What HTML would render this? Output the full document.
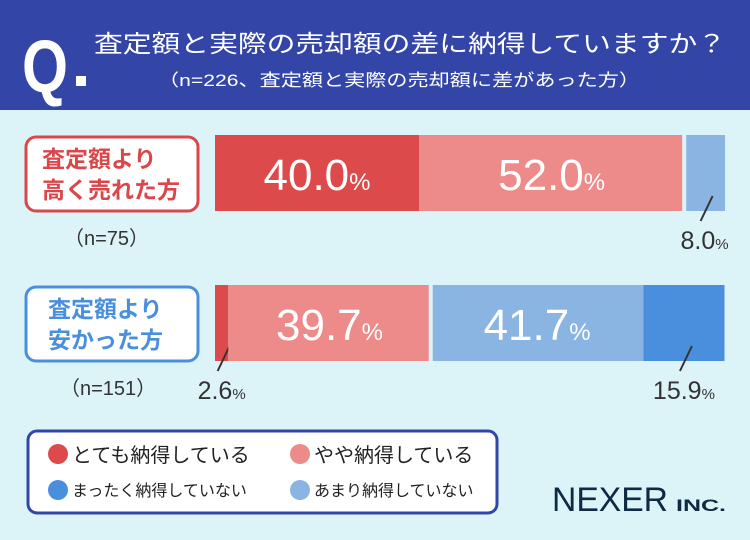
<!DOCTYPE html>
<html><head><meta charset="utf-8">
<style>
body{margin:0;width:750px;height:540px;overflow:hidden;background:#dcf4f8;font-family:"Liberation Sans","Noto Sans CJK JP",sans-serif;}
svg{display:block}
</style></head>
<body>
<svg width="750" height="540" viewBox="0 0 750 540">
<rect x="0" y="0" width="750" height="540" fill="#dcf4f8"/>
<rect x="0" y="0" width="750" height="110" fill="#3346a8"/>
<text x="22" y="92" fill="#fff" font-size="74" font-weight="bold" font-family="Liberation Sans, sans-serif" textLength="46" lengthAdjust="spacingAndGlyphs">Q</text>
<rect x="76" y="76" width="10" height="10" fill="#fff"/>
<text x="94" y="52" fill="#fff" font-size="24" textLength="632" lengthAdjust="spacingAndGlyphs" font-family="Liberation Sans, Noto Sans CJK JP, sans-serif">査定額と実際の売却額の差に納得していますか？</text>
<text x="158" y="86" fill="#fff" font-size="17" textLength="482" lengthAdjust="spacingAndGlyphs" font-family="Liberation Sans, Noto Sans CJK JP, sans-serif">（n=226、査定額と実際の売却額に差があった方）</text>

<g>
<rect x="26" y="137" width="172" height="74" rx="10" fill="#fff" stroke="#d9474b" stroke-width="3"/>
<text x="42" y="167" fill="#d9474b" font-size="23" font-weight="bold" font-family="Liberation Sans, Noto Sans CJK JP, sans-serif">査定額より</text>
<text x="42" y="198" fill="#d9474b" font-size="23" font-weight="bold" font-family="Liberation Sans, Noto Sans CJK JP, sans-serif">高く売れた方</text>
</g>
<text x="64" y="245" fill="#333" font-size="20" font-family="Liberation Sans, Noto Sans CJK JP, sans-serif">（n=75）</text>
<g>
<rect x="26" y="287" width="172" height="74" rx="10" fill="#fff" stroke="#4a8fdd" stroke-width="3"/>
<text x="48" y="317" fill="#4a8fdd" font-size="23" font-weight="bold" font-family="Liberation Sans, Noto Sans CJK JP, sans-serif">査定額より</text>
<text x="48" y="348" fill="#4a8fdd" font-size="23" font-weight="bold" font-family="Liberation Sans, Noto Sans CJK JP, sans-serif">安かった方</text>
</g>
<text x="60" y="395" fill="#333" font-size="20" font-family="Liberation Sans, Noto Sans CJK JP, sans-serif">（n=151）</text>

<g id="bars"></g>

<g>
<rect x="28" y="431" width="469" height="82" rx="9" fill="#fff" stroke="#3346a8" stroke-width="3"/>
<g><circle cx="58" cy="454" r="10" fill="#dd4a4b"/><text x="72" y="462" font-size="20" fill="#222" font-family="Liberation Sans, Noto Sans CJK JP, sans-serif">とても納得している</text></g>
<g><circle cx="300" cy="454" r="10" fill="#ed8a8a"/><text x="314" y="462" font-size="20" fill="#222" font-family="Liberation Sans, Noto Sans CJK JP, sans-serif">やや納得している</text></g>
<g><circle cx="58" cy="490" r="10" fill="#4a8fdd"/><text x="72" y="496" font-size="16" fill="#222" font-family="Liberation Sans, Noto Sans CJK JP, sans-serif">まったく納得していない</text></g>
<g><circle cx="300" cy="490" r="10" fill="#8ab4e2"/><text x="314" y="496" font-size="16" fill="#222" font-family="Liberation Sans, Noto Sans CJK JP, sans-serif">あまり納得していない</text></g>
</g>
<text x="552" y="511" fill="#0f2a44" font-size="34" font-family="Liberation Sans, sans-serif" textLength="116" lengthAdjust="spacingAndGlyphs">NEXER</text>
<text x="676" y="511" fill="#0f2a44" font-size="17" font-weight="bold" font-family="Liberation Sans, sans-serif" textLength="50" lengthAdjust="spacingAndGlyphs">INC.</text>
</svg>
<script>
const categories = ["higher", "lower"];
const seriesNames = ["とても納得している", "やや納得している", "あまり納得していない", "まったく納得していない"];
const higherValues = [40.0, 52.0, 8.0, 0];
const lowerValues = [2.6, 39.7, 41.7, 15.9];
const valueLabels = [["40.0", "52.0", "8.0", ""], ["2.6", "39.7", "41.7", "15.9"]];

const colors = ["#dd4a4b", "#ed8a8a", "#8ab4e2", "#4a8fdd"];
const X0 = 215, X1 = 725, GAP = 4;
const rowY = [135, 285], H = 76;
const xs = v => X0 + (X1 - X0) * v / 100;
const NS = "http://www.w3.org/2000/svg";
const g = document.getElementById("bars");
const all = [higherValues, lowerValues];
function mk(tag, attrs){const e=document.createElementNS(NS,tag);for(const k in attrs)e.setAttribute(k,attrs[k]);return e;}
all.forEach((vals, r) => {
  let cum = 0;
  const nonzero = vals.filter(v=>v>0).length;
  let idx = 0;
  vals.forEach((v, i) => {
    if (v <= 0) { return; }
    const a = xs(cum), b = xs(cum + v);
    cum += v;
    const left = a + (idx > 0 && i===2 ? GAP/2 : 0);
    const right = b - (idx < nonzero-1 && i===1 ? GAP/2 : 0);
    idx++;
    const rect = mk("rect", {x: left, y: rowY[r], width: Math.max(1, right - left), height: H, fill: colors[i]});
    
    
    g.appendChild(rect);
    const cx = (a + b) / 2;
    const lab = valueLabels[r][i];
    const t = mk("text", {"font-family": "Liberation Sans, sans-serif"});
    if (v >= 20) {
      t.setAttribute("x", cx); t.setAttribute("y", rowY[r] + 55);
      t.setAttribute("text-anchor", "middle"); t.setAttribute("fill", "#fff");
      t.innerHTML = '<tspan font-size="44">' + lab + '</tspan><tspan font-size="24">%</tspan>';
    } else {
      const ln = mk("line", {x1: cx + 8, y1: rowY[r] + 61, x2: cx - 4, y2: rowY[r] + 86, stroke: "#333", "stroke-width": 2});
      
      
      g.appendChild(ln);
      t.setAttribute("x", cx); t.setAttribute("y", rowY[r] + 114);
      t.setAttribute("text-anchor", "middle"); t.setAttribute("fill", "#333");
      t.innerHTML = '<tspan font-size="25">' + lab + '</tspan><tspan font-size="15">%</tspan>';
    }
    
    
    g.appendChild(t);
  });
});
</script>
</body></html>
